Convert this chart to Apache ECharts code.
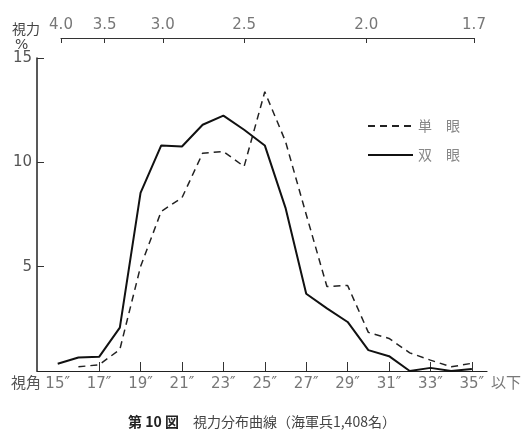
<!DOCTYPE html>
<html><head><meta charset="utf-8">
<script src="https://cdn.jsdelivr.net/npm/echarts@6/dist/echarts.min.js"></script>
<style>html,body{margin:0;padding:0;background:#fff}#c{width:524px;height:445px}</style>
</head><body><div id="c"></div>
<script>
// visual angle (seconds of arc)
const angles = [15,16,17,18,19,20,21,22,23,24,25,26,27,28,29,30,31,32,33,34,35];
// 単眼 (monocular), %
const monocular = [null,0.2,0.3,1.03,5.0,7.65,8.3,10.44,10.52,9.8,13.38,11.0,7.5,4.05,4.1,1.85,1.56,0.87,0.52,0.2,0.37];
// 双眼 (binocular), %
const binocular = [0.35,0.65,0.68,2.08,8.54,10.81,10.76,11.8,12.24,11.56,10.81,7.82,3.7,3.0,2.35,1.0,0.71,0.0,0.15,0.0,0.1];
// tick labels
const angleLabels = [15,17,19,21,23,25,27,29,31,33,35];
const angleTickMarks = [17,19,21,23,25,27,29,31,33,35];
const acuityLabels = [4.0,3.5,3.0,2.5,2.0,1.7];
const yTicks = [5,10,15];

const pair = arr => angles.map((a,i)=>[a,arr[i]]);
const txtGray = '#777';
const font = '"Noto Sans CJK JP", "DejaVu Sans", sans-serif';

const chart = echarts.init(document.getElementById('c'));
chart.setOption({
  backgroundColor:'#fff',
  animation:false,
  textStyle:{fontFamily:font},
  title:{
    text:'{b|第 10 図}　視力分布曲線（海軍兵1,408名）',
    left:'center', top:410,
    textStyle:{fontSize:14, fontWeight:'normal', color:'#444', fontFamily:font,
      rich:{b:{fontSize:14, fontWeight:'bold', color:'#222', fontFamily:font}}}
  },
  legend:{
    orient:'vertical', left:362, top:114, itemWidth:45, itemHeight:12, itemGap:15,
    itemStyle:{opacity:0},
    textStyle:{color:'#888', fontSize:14, fontFamily:font},
    formatter: n => n.split('').join('　'),
    data:['単眼','双眼']
  },
  grid:[
    {left:37, top:58, right:36, bottom:74},
    {left:61, top:37, width:413, height:1}
  ],
  xAxis:[
    {type:'value', gridIndex:0, min:14, max:35.73, position:'bottom',
     name:'以下', nameLocation:'end', nameGap:4,
     nameTextStyle:{color:txtGray, fontSize:15, verticalAlign:'top', padding:[4,0,0,0]},
     axisLine:{lineStyle:{color:'#222', width:1.2}},
     axisTick:{inside:true, length:9, customValues:angleTickMarks, lineStyle:{color:'#333'}},
     axisLabel:{customValues:angleLabels, formatter:v=>v+'″', color:txtGray, fontSize:15, margin:6, fontFamily:'"DejaVu Sans", sans-serif'},
     splitLine:{show:false}},
    {type:'value', gridIndex:1, min:60/4.0, max:60/1.7, position:'top',
     axisLine:{lineStyle:{color:'#333', width:1.2}},
     axisTick:{inside:true, length:5, customValues:acuityLabels.map(v=>60/v), lineStyle:{color:'#333'}},
     axisLabel:{customValues:acuityLabels.map(v=>60/v), formatter:v=>(60/v).toFixed(1), color:txtGray, fontSize:15, margin:4, fontFamily:'"DejaVu Sans", sans-serif'},
     splitLine:{show:false}}
  ],
  yAxis:[
    {type:'value', gridIndex:0, min:0, max:15,
     axisLine:{show:true, lineStyle:{color:'#222', width:1.5}},
     axisTick:{show:true, inside:true, length:7, customValues:yTicks, lineStyle:{color:'#333'}},
     axisLabel:{customValues:yTicks, color:'#555', fontSize:15, margin:5, fontFamily:'"DejaVu Sans", sans-serif'},
     splitLine:{show:false}},
    {type:'value', gridIndex:1, show:false, min:0, max:1}
  ],
  graphic:[
    {type:'text', left:12, top:22, style:{text:'視力', fill:'#444', font:'14px '+font}},
    {type:'text', left:15, top:38, style:{text:'%', fill:'#444', font:'14px "DejaVu Sans"'}},
    {type:'text', left:11, top:375, style:{text:'視角', fill:'#555', font:'15px '+font}}
  ],
  series:[
    {name:'単眼', type:'line', xAxisIndex:0, yAxisIndex:0, data:pair(monocular), showSymbol:false, symbol:'none',
     lineStyle:{color:'#222', width:1.5, type:[7,5]}, itemStyle:{color:'#222'}},
    {name:'双眼', type:'line', xAxisIndex:0, yAxisIndex:0, data:pair(binocular), showSymbol:false, symbol:'none',
     lineStyle:{color:'#111', width:2}, itemStyle:{color:'#111'}}
  ]
});
</script></body></html>
